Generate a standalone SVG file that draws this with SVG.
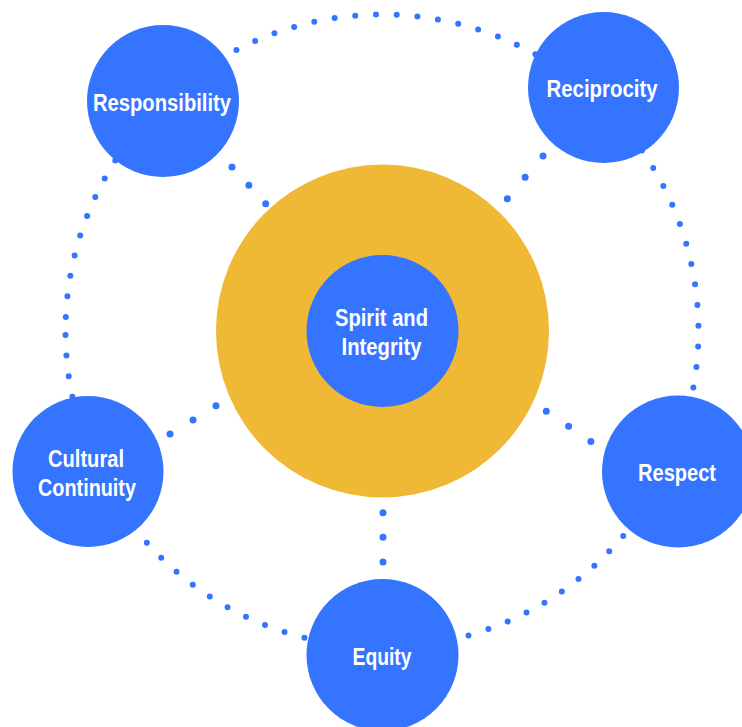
<svg xmlns="http://www.w3.org/2000/svg" width="742" height="727" viewBox="0 0 742 727">
<style>
.node{fill:#3574FE}
.hub{fill:#EFB835}
.lbl{font-family:"Liberation Sans",Arial,sans-serif;font-weight:bold;font-size:23px;fill:#FFFFFF;text-anchor:middle}
.ring{fill:none;stroke:#3574FE;stroke-width:6;stroke-linecap:round;stroke-dasharray:0 20.74}
.spoke{fill:none;stroke:#3574FE;stroke-width:7;stroke-linecap:round}
</style>
<rect width="742" height="727" fill="#FFFFFF"/>
<g id="connectors">
<path class="ring" d="M 65.8 317 A 316.5 316.5 0 1 1 65.8 345 A 316.5 316.5 0 0 1 65.8 317"/>
<path class="spoke" d="M232 167 L266 204" stroke-dasharray="0 24.9"/>
<path class="spoke" d="M543 156 L507 199" stroke-dasharray="0 27.8"/>
<path class="spoke" d="M216 405.7 L169.7 434.3" stroke-dasharray="0 27.0"/>
<path class="spoke" d="M546.3 411.3 L591.3 441.7" stroke-dasharray="0 26.9"/>
<path class="spoke" d="M383 512.7 L383 562.3" stroke-dasharray="0 24.6"/>
</g>
<g id="hub">
<circle class="hub" cx="382.5" cy="331" r="166.5"/>
</g>
<g id="spirit">
<circle class="node" cx="382.5" cy="331" r="76"/>
<text class="lbl" x="381.5" y="326" textLength="93" lengthAdjust="spacingAndGlyphs">Spirit and</text>
<text class="lbl" x="381.5" y="355" textLength="80" lengthAdjust="spacingAndGlyphs">Integrity</text>
</g>
<g id="responsibility">
<circle class="node" cx="163" cy="101" r="76"/>
<text class="lbl" x="162" y="111" textLength="138" lengthAdjust="spacingAndGlyphs">Responsibility</text>
</g>
<g id="reciprocity">
<circle class="node" cx="603.5" cy="87.5" r="75.5"/>
<text class="lbl" x="602" y="97" textLength="111" lengthAdjust="spacingAndGlyphs">Reciprocity</text>
</g>
<g id="cultural">
<circle class="node" cx="88" cy="471.5" r="75.5"/>
<text class="lbl" x="86" y="467" textLength="76" lengthAdjust="spacingAndGlyphs">Cultural</text>
<text class="lbl" x="87" y="496" textLength="98" lengthAdjust="spacingAndGlyphs">Continuity</text>
</g>
<g id="respect">
<circle class="node" cx="678" cy="471.5" r="76"/>
<text class="lbl" x="677" y="481" textLength="78" lengthAdjust="spacingAndGlyphs">Respect</text>
</g>
<g id="equity">
<circle class="node" cx="382.5" cy="655" r="76"/>
<text class="lbl" x="382" y="665" textLength="59" lengthAdjust="spacingAndGlyphs">Equity</text>
</g>
</svg>
